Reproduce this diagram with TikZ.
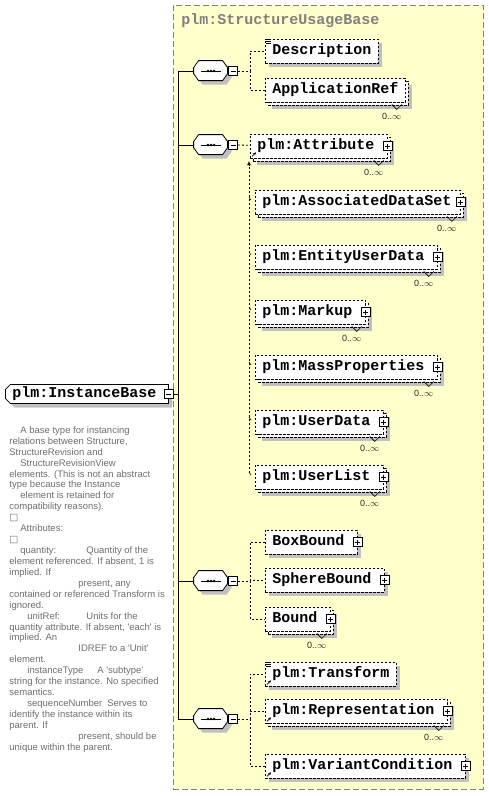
\documentclass[tikz,border=0pt]{standalone}
\usepackage{fontspec}
\setmainfont{Liberation Sans}
\newfontfamily\elfont{Liberation Mono}
\newfontfamily\symfont{DejaVu Sans}
\usetikzlibrary{positioning,arrows.meta,shapes.misc,shadows}

\definecolor{panelfill}{RGB}{255,255,204}
\definecolor{panelline}{RGB}{128,128,128}
\definecolor{shadowgray}{RGB}{192,192,192}
\definecolor{doctext}{RGB}{110,110,110}

\begin{document}
\begin{tikzpicture}[
    x=1pt, y=-1pt, line width=.8pt,
    panel/.style   ={draw=panelline, fill=panelfill, dash pattern=on 6pt off 3pt,
                     anchor=north west, inner sep=0pt},
    title/.style   ={font=\elfont\bfseries\fontsize{15}{15}\selectfont, text=panelline,
                     anchor=west, inner sep=0pt},
    elem/.style    ={draw, dash pattern=on 2.5pt off 1.5pt, fill=white, anchor=west,
                     minimum height=24pt, inner xsep=7pt, inner ysep=0pt,
                     text height=10pt, text depth=3pt,
                     font=\elfont\bfseries\fontsize{15}{15}\selectfont},
    single/.style  ={elem, drop shadow={shadow xshift=4pt, shadow yshift=-4pt,
                     opacity=1, fill=shadowgray}},
    multi/.style   ={elem, drop shadow={shadow xshift=7pt, shadow yshift=-7pt,
                     opacity=1, fill=shadowgray},
                     copy shadow={shadow xshift=3pt, shadow yshift=-3pt, draw=black,
                     fill=white, dash pattern=on 2.5pt off 1.5pt}},
    withplus/.style={execute at end node={\hspace{6pt}}},
    typebox/.style ={chamfered rectangle, chamfered rectangle corners={north west,south west},
                     chamfered rectangle xsep=2pt, chamfered rectangle ysep=3pt,
                     draw, fill=white, anchor=west, minimum height=18pt,
                     inner xsep=5pt, inner ysep=0pt, text height=10pt, text depth=3pt,
                     font=\elfont\bfseries\fontsize{15}{15}\selectfont,
                     execute at end node={\hspace{5pt}},
                     drop shadow={shadow xshift=4pt, shadow yshift=-4pt,
                     opacity=1, fill=shadowgray}},
    seqbox/.style  ={minimum width=34pt, minimum height=20pt, inner sep=0pt},
    plusbox/.style ={draw, fill=white, minimum size=9pt, inner sep=0pt, line width=.7pt,
                     path picture={\draw[line width=.7pt]
                       ([yshift=-2pt]path picture bounding box.north) --
                       ([yshift=2pt]path picture bounding box.south)
                       ([xshift=2pt]path picture bounding box.west) --
                       ([xshift=-2pt]path picture bounding box.east);}},
    minusbox/.style={draw, fill=white, minimum size=9pt, inner sep=0pt, line width=.7pt,
                     path picture={\draw[line width=.7pt]
                       ([xshift=2pt]path picture bounding box.west) --
                       ([xshift=-2pt]path picture bounding box.east);}},
    link/.style    ={dash pattern=on 2pt off 2pt},
    mult/.style    ={font=\fontsize{9}{9}\selectfont, text=black!85, inner sep=0pt},
    doc/.style     ={font=\fontsize{9.5}{10.93}\selectfont, text=doctext, align=left,
                     inner sep=0pt, anchor=north west}
]
\useasboundingbox (0,0) rectangle (489,796);

% the type's content model
\node[panel, minimum width=310pt, minimum height=784pt] (usage) at (173,5) {};
\node[title] (usagetitle) at (181,21) {plm:StructureUsageBase};

% the type itself
\node[typebox] (ibase) at (5,394) {plm:InstanceBase};
\node[minusbox] (ibaseminus) at (ibase.east) {};
\coordinate (trunk) at (178,394);
\draw (ibaseminus) -- (trunk);

\node[doc] (ibasedoc) at (9,426) {%
\hspace*{11pt}A base type for instancing\\
relations between Structure,\\
StructureRevision and\\
\hspace*{11pt}StructureRevisionView\\
elements. (This is not an abstract\\
type because the Instance\\
\hspace*{11pt}element is retained for\\
compatibility reasons).\\
{\symfont □}\\
\hspace*{11pt}Attributes:\\
{\symfont □}\\
\hspace*{11pt}\makebox[66pt][l]{quantity:}Quantity of the\\
element referenced. If absent, 1 is\\
implied. If\\
\hspace*{69pt}present, any\\
contained or referenced Transform is\\
ignored.\\
\hspace*{18pt}\makebox[59pt][l]{unitRef:}Units for the\\
quantity attribute. If absent, \textquotesingle each\textquotesingle\ is\\
implied. An\\
\hspace*{69pt}IDREF to a \textquotesingle Unit\textquotesingle\\
element.\\
\hspace*{18pt}\makebox[70pt][l]{instanceType}A \textquotesingle subtype\textquotesingle\\
string for the instance. No specified\\
semantics.\\
\hspace*{18pt}\makebox[80pt][l]{sequenceNumber}Serves to\\
identify the instance within its\\
parent. If\\
\hspace*{69pt}present, should be\\
unique within the parent.};

% sequences
\node[seqbox] (seqa) at (211,71)  {};
\node[seqbox] (seqb) at (211,145) {};
\node[seqbox] (seqc) at (211,581) {};
\node[seqbox] (seqd) at (211,719) {};
\foreach \s in {seqa,seqb,seqc,seqd}{
    \draw (trunk) |- (\s.west);
    \fill[shadowgray] ([shift={(9pt,-4pt)}]\s.north west) -- ++(24,0) -- ++(5,7) -- ++(0,6)
        -- ++(-5,7) -- ++(-24,0) -- ++(-5,-7) -- ++(0,-6) -- cycle;
    \filldraw[fill=white] ([xshift=5pt]\s.north west) -- ++(24,0) -- ++(5,7) -- ++(0,6)
        -- ++(-5,7) -- ++(-24,0) -- ++(-5,-7) -- ++(0,-6) -- cycle;
    \node[minusbox, right=0pt of \s] (\s-minus) {};
    \draw ([xshift=-10pt]\s.center) -- ([xshift=10pt]\s.center);
    \foreach \d in {-3,0,3}
        \fill ([xshift=\d pt]\s.center) circle (1.3pt);
}

% first sequence
\node[single] (desc) at (265,51) {Description};
\node[multi, below=39pt of desc.west, anchor=west] (appref) {ApplicationRef};
\coordinate (joina) at (250,71);
\draw[link] (seqa-minus) -- (joina);
\draw[link] (joina) |- (desc);
\draw[link] (joina) |- (appref);

% attribute and its substitution group
\node[multi, withplus] (attr) at (250,146) {plm:Attribute};
\node[multi, withplus, execute at end node={\hspace{-4pt}}] (assoc) at (255,202)
    {plm:AssociatedDataSet};
\node[multi, withplus, below=55pt of assoc.west, anchor=west] (eud) {plm:EntityUserData};
\node[multi, withplus, below=55pt of eud.west, anchor=west] (markup) {plm:Markup};
\node[multi, withplus, below=55pt of markup.west, anchor=west] (massprop) {plm:MassProperties};
\node[multi, withplus, below=55pt of massprop.west, anchor=west] (userdata) {plm:UserData};
\node[multi, withplus, below=55pt of userdata.west, anchor=west] (userlist) {plm:UserList};
\draw[link] (seqb-minus) -- (attr);
\coordinate (subtop) at (249,161);
\coordinate (subend) at (249,473);
\draw[link, -{Latex[length=4pt,width=4pt]}] (subend) -- (subtop);
\foreach \m in {assoc,eud,markup,massprop,userdata,userlist}
    \draw[line width=.6pt] ([xshift=-6pt,yshift=5pt]\m.west) -- ([xshift=-4pt,yshift=2pt]\m.west);

% bounds
\node[single, withplus] (boxbound) at (265,542) {BoxBound};
\node[single, withplus, below=38pt of boxbound.west, anchor=west] (sphere) {SphereBound};
\node[multi, withplus, below=39pt of sphere.west, anchor=west] (bound) {Bound};
\coordinate (joinc) at (250,581);
\draw[link] (seqc-minus) -- (joinc);
\foreach \e in {boxbound,sphere,bound}
    \draw[link] (joinc) |- (\e);

% placement and representation
\node[single] (transform) at (265,674) {plm:Transform};
\node[multi, withplus, below=37pt of transform.west, anchor=west] (repr) {plm:Representation};
\node[single, withplus, below=55pt of repr.west, anchor=west] (varcond) {plm:VariantCondition};
\coordinate (joind) at (250,719);
\draw[link] (seqd-minus) -- (joind);
\foreach \e in {transform,repr,varcond}
    \draw[link] (joind) |- (\e);

% expand buttons
\foreach \e in {attr,assoc,eud,markup,massprop,userdata,userlist,boxbound,sphere,bound,repr,varcond}
    \node[plusbox] (\e-plus) at (\e.east) {};

% occurrence marks
\foreach \e in {appref,attr,assoc,eud,markup,massprop,userdata,userlist,bound,repr}{
    \draw[line width=.6pt] ([xshift=-14pt,yshift=-2pt]\e.south east) -- ++(5,5) -- ++(5,-5);
    \node[mult] (\e-mult) at ([xshift=-14pt,yshift=-14pt]\e.south east) {0..$\infty$};
}

% documentation and reference icons
\foreach \e in {desc,transform}
    \foreach \k in {1,3,5}
        \draw[line width=.5pt] ([xshift=1pt,yshift=-\k pt]\e.north west) -- ++(5,0);
\foreach \e in {attr,transform,repr,varcond}
    \draw[-{Stealth[length=3pt,width=3pt]}, line width=.7pt]
        ([shift={(2pt,2pt)}]\e.south west) -- ++(4,-4);

\end{tikzpicture}
\end{document}
